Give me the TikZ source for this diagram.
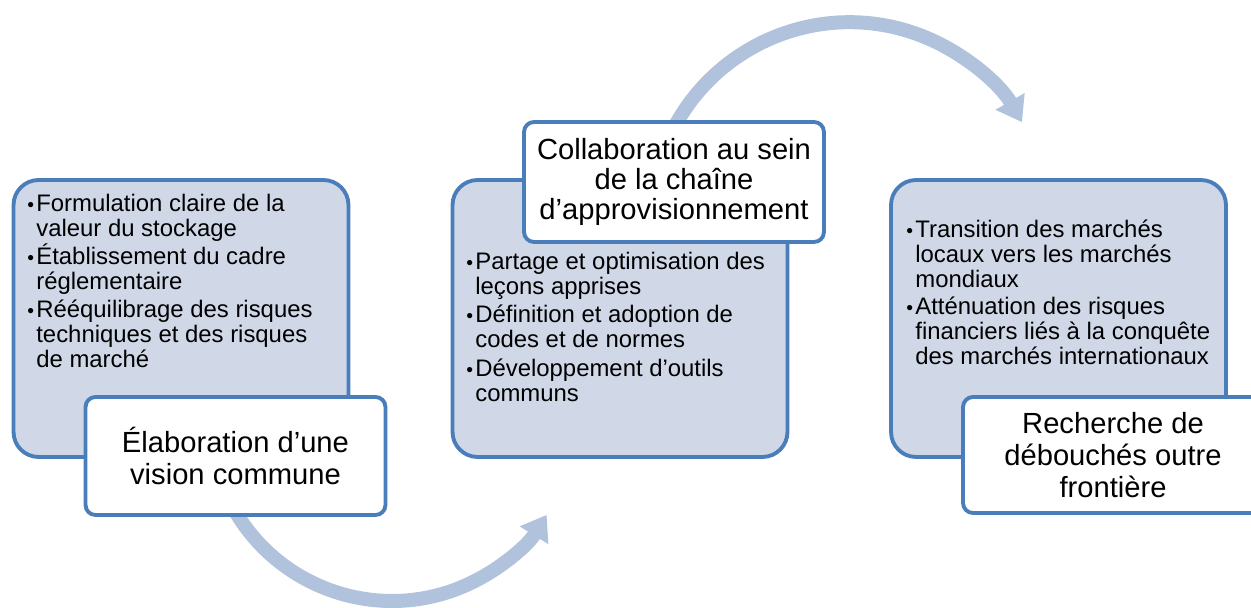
\documentclass[tikz,border=0pt]{standalone}
\usepackage{fontspec}
\setmainfont{Liberation Sans}
\usetikzlibrary{arrows.meta}

\definecolor{bordbleu}{HTML}{4A7EBB}
\definecolor{fondbleu}{HTML}{D0D8E8}
\definecolor{arcbleu}{HTML}{B1C2DD}

\newcommand{\puce}[1]{\makebox[0.18cm][l]{\fontsize{11}{11}\selectfont\textbullet}\parbox[t]{6.6cm}{#1}}

\begin{document}
\begin{tikzpicture}[x=0.02cm, y=0.02cm]
	\tikzset{
		bloc/.style={draw=bordbleu, fill=fondbleu, line width=2.2pt,
			rounded corners=0.5cm, minimum width=6.7cm, minimum height=5.54cm, inner sep=0},
		titre/.style={draw=bordbleu, fill=white, line width=2.2pt,
			rounded corners=0.2cm, minimum width=6cm, minimum height=2.36cm, inner sep=0,
			align=center, font=\fontsize{16.6}{18}\selectfont},
		item/.style={anchor=base west, inner sep=0,
			font=\fontsize{13.6}{14}\selectfont},
		fleche/.style={draw=arcbleu, line width=0.28cm,
			-{Triangle[width=0.64cm, length=0.48cm]}}
	}
	\useasboundingbox (0,0) rectangle (1251,608);
	\clip (0,0) rectangle (1251,608);
	
	% Arcs
	\coordinate (centrebas)  at (392, 189);
	\coordinate (centrehaut) at (849.5, 387);
	\draw [fleche]
	      ([shift={(205:3.64cm)}]centrebas)
	      arc [start angle=205, end angle=328.2, radius=3.64cm];
	\draw [fleche]
	      ([shift={(156:3.976cm)}]centrehaut)
	      arc [start angle=156, end angle=29.8, radius=3.976cm];
	
	% Blocs
	\node (bloc1) [bloc] at (181, 289.5)    {};
	\node (bloc2) [bloc] at (620, 289.5)    {};
	\node (bloc3) [bloc] at (1058.5, 289.5) {};
	
	% Listes
	\foreach \x/\y/\texte [count=\i] in {
		27/396/{Formulation claire de la\\valeur du stockage},
		27/343/{Établissement du cadre\\réglementaire},
		27/290/{Rééquilibrage des risques\\techniques et des risques\\de marché},
		466/338/{Partage et optimisation des\\leçons apprises},
		466/285/{Définition et adoption de\\codes et de normes},
		466/231/{Développement d’outils\\communs},
		906/370/{Transition des marchés\\locaux vers les marchés\\mondiaux},
		906/293/{Atténuation des risques\\financiers liés à la conquête\\des marchés internationaux}}{
		\node (puce\i) [item] at (\x, \y) {\puce{\texte}};
	}
	
	% Titres
	\node (titre1) [titre] at (235.5, 152) {Élaboration d’une\\vision commune};
	\node (titre2) [titre, minimum height=2.4cm, font=\fontsize{16.6}{17.2}\selectfont]
	      at (674, 426) {Collaboration au sein\\de la chaîne\\d’approvisionnement};
	\node (titre3) [titre, minimum height=2.32cm] at (1113, 153) {Recherche de\\débouchés outre\\frontière};
\end{tikzpicture}
\end{document}
